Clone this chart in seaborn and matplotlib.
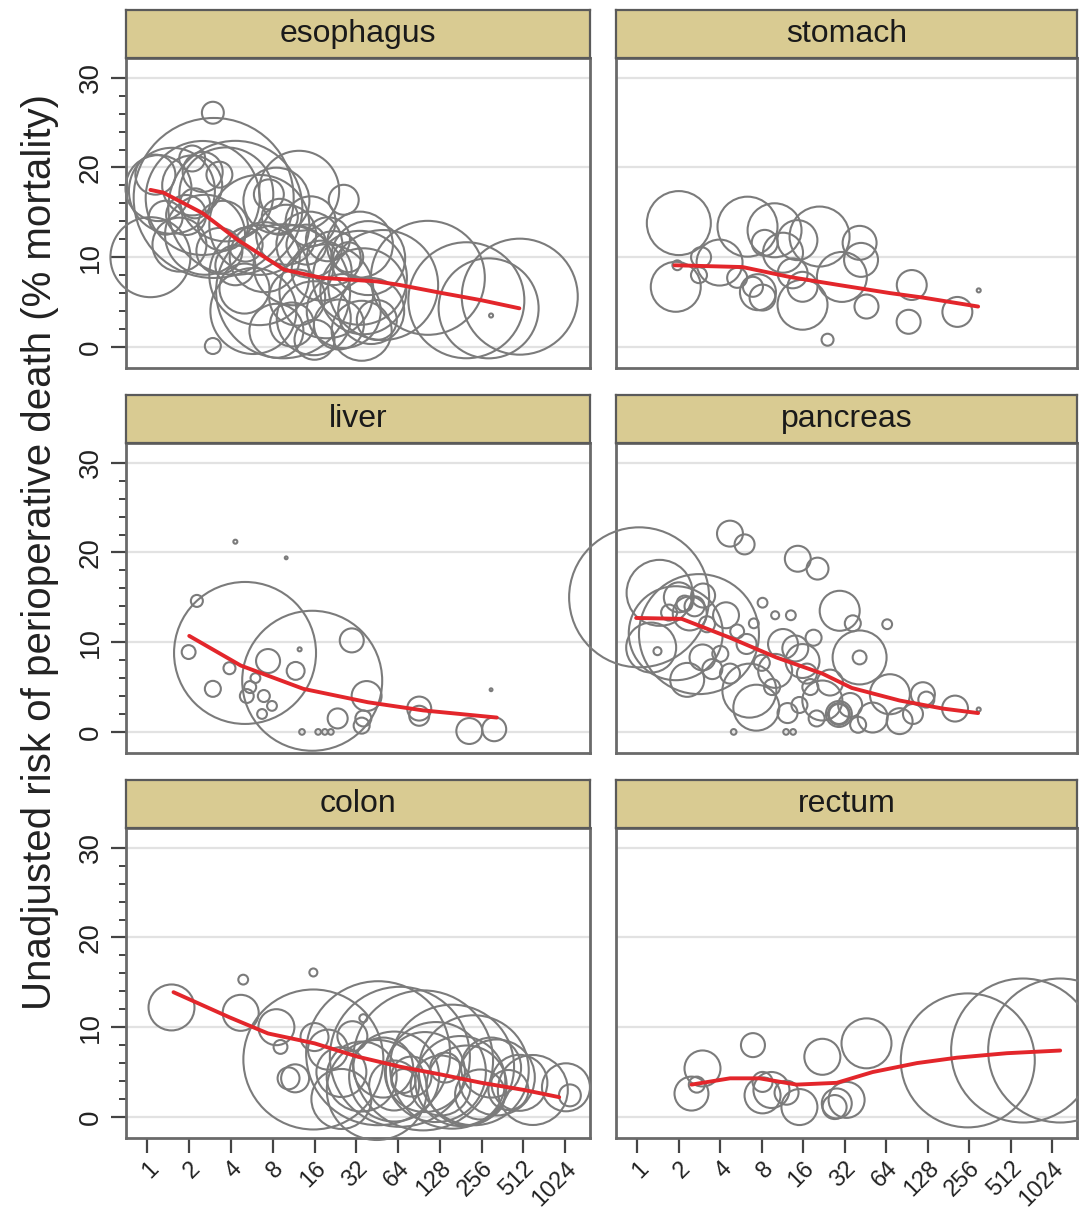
import numpy as np
import pandas as pd
import matplotlib.pyplot as plt
import seaborn as sns

# ----------------------------------------------------------------------
# Data: (hospital volume, % mortality, cases)
# bubble area is proportional to cases
# ----------------------------------------------------------------------
organs = ['esophagus', 'stomach', 'liver', 'pancreas', 'colon', 'rectum']

esophagus_pts = [
    (2.96, 26.1, 60), (2.96, 0.1, 32), (1.05, 10.0, 800), (3.0, 16.6, 3200),
    (1.2, 17.7, 544), (1.5, 17.4, 924), (2.5, 16.6, 1624), (3.7, 17.0, 1104),
    (2.1, 18.0, 450), (4.3, 15.5, 2244), (1.7, 11.4, 364), (2.6, 12.5, 800),
    (6.4, 13.6, 1250), (8.5, 16.3, 544), (12.4, 17.4, 800), (26, 16.4, 112),
    (6.4, 8.0, 1250), (9.5, 6.2, 2244), (5.8, 4.0, 924), (11.3, 9.1, 800),
    (14.7, 11.4, 544), (19.5, 6.2, 1104), (15.8, 3.2, 684), (26, 4.0, 684),
    (8.5, 1.8, 364), (14, 11.4, 200), (22, 9.9, 364), (34, 11.4, 544),
    (34, 7.7, 1104), (4.3, 9.1, 200), (3.3, 10.7, 264), (5.1, 11.4, 144),
    (1.9, 14.7, 200), (1.35, 14.4, 144), (2.5, 19.5, 200), (3.3, 19.2, 84),
    (2.1, 21.0, 84), (1.14, 19.2, 200), (39, 9.9, 684), (36, 6.2, 924),
    (35, 1.8, 450), (41, 4.0, 544), (50, 6.9, 1512), (105, 7.7, 1624),
    (199, 5.2, 1682), (288, 4.3, 1250), (483, 5.6, 1682), (15, 14.0, 312),
    (10, 12.5, 450), (7, 10.0, 612), (18, 8.5, 450), (12, 5.5, 392),
    (24, 2.5, 312), (20, 12.0, 242), (5, 6.5, 312), (16, 0.8, 200),
    (45, 3.0, 200), (9, 14.5, 162), (3.5, 13.5, 312), (2.2, 16.0, 112),
    (7.5, 17.0, 112), (11, 2.5, 242), (28, 10.0, 112), (300, 3.5, 2),
]
esophagus_fit_vol = [1.05, 1.3, 2.5, 4.5, 9.7, 18, 45, 66, 133, 256, 480]
esophagus_fit_mort = [17.5, 17.2, 14.9, 11.9, 8.6, 7.7, 7.3, 6.9, 6.0, 5.2, 4.3]

stomach_pts = [
    (2.0, 13.8, 512), (1.9, 6.7, 312), (1.95, 9.1, 12), (2.9, 10.0, 50),
    (2.8, 8.0, 32), (3.95, 9.4, 264), (6.3, 13.4, 450), (5.3, 7.7, 50),
    (7.5, 6.1, 162), (8.1, 5.5, 84), (6.9, 6.7, 50), (8.4, 11.6, 84),
    (9.9, 13.0, 364), (11.4, 10.5, 200), (14.5, 11.9, 200), (13.4, 8.2, 112),
    (15.8, 6.7, 112), (15.8, 4.7, 312), (21, 12.3, 450), (30.5, 7.8, 312),
    (41, 11.6, 144), (42, 9.7, 144), (46, 4.5, 72), (24, 0.8, 18),
    (98, 6.9, 112), (93, 2.8, 72), (210, 3.9, 112), (300, 6.3, 2),
]
stomach_fit_vol = [1.86, 5.8, 12.7, 29, 68, 118, 297]
stomach_fit_mort = [9.1, 8.9, 7.8, 6.9, 6.0, 5.5, 4.5]

liver_pts = [
    (2.27, 14.6, 18), (1.98, 8.9, 24), (5.05, 8.8, 2520), (15.4, 5.7, 2450),
    (2.96, 4.8, 32), (3.9, 7.1, 18), (5.2, 4.0, 24), (6.9, 4.0, 18),
    (7.9, 2.9, 12), (6.7, 2.0, 12), (7.4, 7.9, 72), (11.7, 6.8, 40),
    (12.5, 9.2, 2), (29.7, 10.2, 72), (38, 4.0, 112), (23.5, 1.5, 50),
    (35, 0.7, 32), (36, 1.5, 32), (13, 0.0, 4), (17, 0.0, 4),
    (19, 0.0, 4), (21, 0.0, 4), (91, 2.6, 72), (91, 1.8, 50),
    (209, 0.1, 84), (316, 0.3, 72), (4.3, 21.2, 2), (10, 19.4, 1),
    (300, 4.7, 1), (6.0, 6.0, 12), (5.5, 5.0, 18),
]
liver_fit_vol = [2.0, 4.7, 13.3, 39, 97, 330]
liver_fit_mort = [10.7, 7.4, 4.8, 3.3, 2.4, 1.6]

pancreas_pts = [
    (1.03, 15.0, 2450), (1.45, 15.5, 544), (1.9, 11.0, 1104), (1.26, 9.4, 312),
    (1.4, 9.0, 8), (2.0, 15.0, 112), (2.8, 10.9, 1800), (2.4, 13.2, 144),
    (2.97, 8.3, 84), (4.4, 13.0, 84), (4.7, 6.5, 50), (4.7, 22.1, 84),
    (6.0, 20.9, 50), (14.6, 19.3, 84), (20.3, 18.2, 60), (29.4, 13.5, 200),
    (36.6, 12.1, 32), (41, 8.3, 364), (41, 8.3, 24), (65, 12.0, 12),
    (13, 13.0, 12), (10, 13.0, 8), (8.1, 14.4, 12), (7.3, 2.7, 264),
    (12.3, 2.1, 50), (15.8, 7.9, 144), (22, 3.5, 200), (29, 2.0, 84),
    (29, 2.0, 50), (29, 2.0, 60), (51, 1.6, 112), (68, 4.2, 200),
    (80, 1.2, 84), (118, 4.2, 72), (125, 3.6, 32), (202, 2.6, 84),
    (5, 0.0, 4), (12, 0.0, 4), (13.5, 0.0, 4), (6.5, 4.6, 364),
    (10, 6.8, 144), (11.4, 9.8, 112), (14, 9.3, 84), (3.5, 7.0, 50),
    (4.0, 8.7, 32), (2.3, 5.8, 144), (6.2, 9.8, 50), (8, 7.7, 32),
    (9.5, 5.0, 32), (17, 6.5, 50), (18, 5.0, 32), (2.2, 14.3, 32),
    (2.6, 14.0, 50), (3.2, 12.0, 32), (5.3, 11.2, 24), (7.0, 12.1, 12),
    (19, 10.5, 32), (25, 5.5, 84), (35, 3.0, 72), (40, 0.8, 32),
    (1.7, 13.3, 32), (3.0, 15.2, 72), (20, 1.5, 32), (100, 2.0, 50),
    (15, 3.0, 32), (300, 2.5, 2),
]
pancreas_fit_vol = [0.98, 2.1, 4.7, 10.2, 22, 36, 80, 165, 297]
pancreas_fit_mort = [12.7, 12.6, 10.5, 8.3, 6.5, 4.9, 3.5, 2.6, 2.1]

colon_pts = [
    (1.49, 12.2, 264), (4.9, 15.3, 12), (4.7, 11.6, 162), (8.5, 10.0, 162),
    (9.1, 7.8, 24), (10.4, 4.3, 60), (15.7, 16.1, 8), (15.7, 6.4, 2450),
    (36, 11.0, 8), (16, 8.9, 98), (11.6, 4.3, 98), (46, 7.1, 2592),
    (66, 6.7, 2450), (97, 6.3, 2450), (157, 5.6, 1922), (225, 5.2, 1512),
    (330, 4.4, 722), (480, 3.8, 392), (1040, 3.3, 288), (1110, 2.4, 60),
    (25, 5.0, 312), (35, 4.5, 612), (50, 5.5, 450), (60, 3.5, 312),
    (80, 4.5, 200), (100, 5.0, 800), (130, 3.5, 450), (180, 4.0, 1012),
    (250, 2.5, 312), (300, 5.5, 450), (400, 3.0, 200), (20, 7.5, 200),
    (30, 9.0, 112), (70, 4.0, 72), (140, 5.5, 112), (60, 4.5, 1012),
    (120, 5.0, 1250), (200, 3.5, 800), (25, 2.0, 450), (45, 3.0, 1250),
    (600, 3.0, 612),
]
colon_fit_vol = [1.54, 3.9, 7.4, 16, 33, 66, 133, 256, 520, 930]
colon_fit_mort = [13.9, 11.1, 9.3, 8.2, 6.7, 5.6, 4.7, 3.8, 3.0, 2.2]

rectum_pts = [
    (2.47, 2.6, 144), (2.97, 5.4, 162), (2.7, 3.6, 32), (6.9, 8.0, 72),
    (8.1, 2.4, 162), (9.4, 3.0, 162), (8.1, 3.9, 50), (12.1, 2.7, 72),
    (15, 1.1, 162), (22, 6.7, 162), (28, 1.5, 112), (33, 1.9, 162),
    (27, 1.1, 72), (46, 8.2, 312), (250, 6.3, 2244), (630, 7.4, 2592),
    (1170, 7.4, 2592),
]
rectum_fit_vol = [2.47, 4.7, 7.7, 14.3, 28, 51, 107, 208, 480, 1170]
rectum_fit_mort = [3.6, 4.3, 4.3, 3.6, 3.8, 5.0, 6.0, 6.6, 7.1, 7.4]

panel_pts = [esophagus_pts, stomach_pts, liver_pts, pancreas_pts, colon_pts, rectum_pts]
panel_fit = [
    (esophagus_fit_vol, esophagus_fit_mort), (stomach_fit_vol, stomach_fit_mort),
    (liver_fit_vol, liver_fit_mort), (pancreas_fit_vol, pancreas_fit_mort),
    (colon_fit_vol, colon_fit_mort), (rectum_fit_vol, rectum_fit_mort),
]

x_ticks = [2 ** i for i in range(11)]
x_tick_labels = [str(t) for t in x_ticks]
y_ticks = [0, 10, 20, 30]

# ----------------------------------------------------------------------
# Styling / layout
# ----------------------------------------------------------------------
sns.set_theme(style='white')
plt.rcParams['font.family'] = ['Liberation Sans', 'DejaVu Sans']

W, H = 1079, 1208
CASE_MAX = 4000
PT2_PER_CASE = 4.147          # marker area (pt^2) per case at 100 dpi
circle_grey = '#7b7b7b'
fit_red = '#e3262b'
strip_tan = '#d9cb92'
frame_grey = '#6a6a6a'

col_left = [126, 616]
col_width = [464, 461]
row_top = [58, 443, 828]
panel_h = 310
strip_h = 48

fig = plt.figure(figsize=(W / 100, H / 100), dpi=100)

for i, organ in enumerate(organs):
    r, c = divmod(i, 2)
    left = col_left[c] / W
    width = col_width[c] / W
    bottom = 1 - (row_top[r] + panel_h) / H
    ax = fig.add_axes([left, bottom, width, panel_h / H])
    ax.set_xscale('log', base=2)

    df = pd.DataFrame(panel_pts[i], columns=['volume', 'mortality', 'cases'])
    sns.scatterplot(data=df, x='volume', y='mortality', size='cases',
                    sizes=(0, PT2_PER_CASE * CASE_MAX), size_norm=(0, CASE_MAX),
                    marker='o', facecolor='none', edgecolor=circle_grey,
                    linewidth=1.5, legend=False, clip_on=False, zorder=3, ax=ax)
    fv, fm = panel_fit[i]
    sns.lineplot(x=fv, y=fm, color=fit_red, linewidth=2.8, estimator=None,
                 sort=False, zorder=4, ax=ax)

    ax.set_xlim(0.7, 1550)
    ax.set_ylim(-2.35, 32.2)
    ax.set_xticks(x_ticks)
    ax.set_xticks([], minor=True)
    ax.set_yticks(y_ticks)
    ax.set_yticks(list(range(0, 31, 2)), minor=True)
    ax.set_xlabel('')
    ax.set_ylabel('')
    ax.yaxis.grid(True, color='#e2e2e2', linewidth=1.6, zorder=0)
    ax.xaxis.grid(False)
    ax.set_axisbelow(True)
    for sp in ax.spines.values():
        sp.set_color(frame_grey)
        sp.set_linewidth(2)

    if r == 2:
        ax.set_xticklabels(x_tick_labels, rotation=45, ha='right',
                           rotation_mode='anchor', fontsize=17, color='#222')
        ax.tick_params(axis='x', which='major', bottom=True, length=11,
                       width=1.6, color='#444', pad=3)
    else:
        ax.tick_params(axis='x', which='both', bottom=False, labelbottom=False)

    if c == 0:
        ax.set_yticklabels([str(t) for t in y_ticks], rotation=90, va='center',
                           fontsize=20, color='#222')
        ax.tick_params(axis='y', which='major', left=True, length=11,
                       width=1.6, color='#444', pad=5)
        ax.tick_params(axis='y', which='minor', left=True, length=5,
                       width=1.4, color='#444')
    else:
        ax.tick_params(axis='y', which='both', left=False, labelleft=False)

    # strip header
    sax = fig.add_axes([left, 1 - row_top[r] / H, width, strip_h / H])
    sax.set_facecolor(strip_tan)
    sax.set_xticks([])
    sax.set_yticks([])
    for sp in sax.spines.values():
        sp.set_color('#5a5a5a')
        sp.set_linewidth(1.6)
    sax.text(0.5, 0.5, organ, ha='center', va='center', fontsize=23,
             color='#1a1a1a', transform=sax.transAxes)

fig.text(40 / W, 1 - 552 / H,
         'Unadjusted risk of perioperative death (% mortality)',
         rotation=90, ha='center', va='center', fontsize=29, color='#222')

fig.savefig('out.png', dpi=100)
plt.close(fig)
